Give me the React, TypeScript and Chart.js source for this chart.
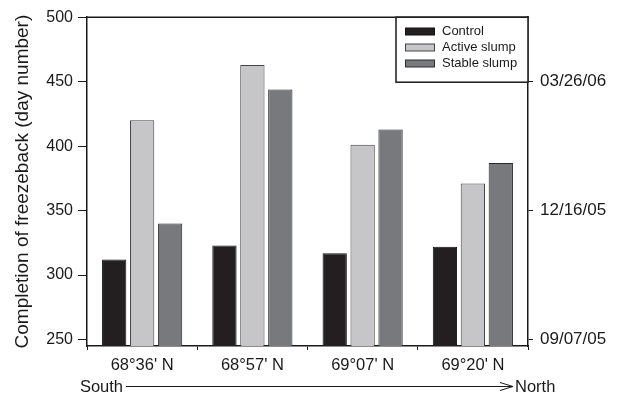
import React, { useEffect, useRef } from "react";
import { Chart, registerables } from "chart.js";

Chart.register(...registerables);

const sites = ["68°36' N", "68°57' N", "69°07' N", "69°20' N"];
const controlDays = [312, 323, 317, 322];
const activeSlumpDays = [420, 463, 401, 371];
const stableSlumpDays = [340, 444, 413, 387];

const leftTicks = [250, 300, 350, 400, 450, 500];
const dateTickValues = [250, 350, 450];
const dateTickLabels = ["09/07/05", "12/16/05", "03/26/06"];

const FONT = "'Liberation Sans', Arial, Helvetica, sans-serif";

const framePlugin = {
  id: "frameAndNotes",
  afterDraw(chart: any) {
    const { ctx, chartArea } = chart;
    const { left, right, top, bottom } = chartArea;
    ctx.save();

    // top edge of the plot frame
    ctx.strokeStyle = "#1a1a1a";
    ctx.lineWidth = 1.5;
    ctx.beginPath();
    ctx.moveTo(left - 1, top);
    ctx.lineTo(right + 1, top);
    ctx.stroke();

    // y-axis title
    ctx.fillStyle = "#1a1a1a";
    ctx.font = `19px ${FONT}`;
    ctx.textAlign = "center";
    ctx.textBaseline = "middle";
    ctx.save();
    ctx.translate(23, (top + bottom) / 2);
    ctx.rotate(-Math.PI / 2);
    ctx.fillText("Completion of freezeback (day number)", 0, 0);
    ctx.restore();

    // South -> North direction arrow
    const ay = 386.5;
    ctx.font = `16.5px ${FONT}`;
    ctx.textBaseline = "alphabetic";
    ctx.textAlign = "right";
    ctx.fillText("South", 123, 392);
    ctx.textAlign = "left";
    ctx.fillText("North", 515, 392);
    ctx.lineWidth = 1;
    ctx.beginPath();
    ctx.moveTo(126, ay);
    ctx.lineTo(513, ay);
    ctx.moveTo(500, ay - 4);
    ctx.lineTo(513, ay);
    ctx.lineTo(500, ay + 4);
    ctx.stroke();

    // legend box
    const bx = 396;
    const by = top;
    const bw = right - bx;
    const bh = 65;
    ctx.fillStyle = "#ffffff";
    ctx.fillRect(bx, by, bw, bh);
    ctx.strokeStyle = "#1a1a1a";
    ctx.lineWidth = 1.5;
    ctx.strokeRect(bx, by, bw, bh);

    const rows = [31.5, 47.5, 63.5];
    ctx.font = `13px ${FONT}`;
    ctx.textBaseline = "middle";
    ctx.textAlign = "left";
    chart.data.datasets.forEach((ds: any, i: number) => {
      const cy = rows[i];
      ctx.fillStyle = ds.backgroundColor;
      ctx.fillRect(405, cy - 3.5, 30, 7);
      ctx.strokeStyle = ds.borderColor;
      ctx.lineWidth = 1;
      ctx.strokeRect(405.5, cy - 3.5, 29, 7);
      ctx.fillStyle = "#1a1a1a";
      ctx.fillText(ds.label, 442, cy);
    });

    ctx.restore();
  },
};

export default function App() {
  const canvasRef = useRef<HTMLCanvasElement | null>(null);

  useEffect(() => {
    if (!canvasRef.current) return;
    const chart = new Chart(canvasRef.current, {
      type: "bar",
      data: {
        labels: sites,
        datasets: [
          {
            label: "Control",
            data: controlDays,
            backgroundColor: "#231f20",
            borderColor: "#111111",
            borderWidth: 1,
            yAxisID: "y",
          },
          {
            label: "Active slump",
            data: activeSlumpDays,
            backgroundColor: "#c6c6c8",
            borderColor: "#444444",
            borderWidth: 1,
            yAxisID: "y",
          },
          {
            label: "Stable slump",
            data: stableSlumpDays,
            backgroundColor: "#78797c",
            borderColor: "#2a2a2a",
            borderWidth: 1,
            yAxisID: "y",
          },
        ],
      },
      options: {
        responsive: false,
        animation: false,
        layout: { padding: { top: 15, left: 0, right: 0, bottom: 0 } },
        datasets: {
          bar: { categoryPercentage: 0.76, barPercentage: 0.87 },
        },
        plugins: {
          legend: { display: false },
          tooltip: { enabled: false },
        },
        scales: {
          x: {
            grid: {
              drawOnChartArea: false,
              drawTicks: true,
              tickLength: 4,
              color: "#1a1a1a",
            },
            border: { display: true, color: "#1a1a1a", width: 1.5 },
            ticks: {
              color: "#1a1a1a",
              font: { family: FONT, size: 16.5 },
              padding: 6,
              maxRotation: 0,
            },
            afterFit: (scale: any) => {
              scale.height = 51;
            },
          },
          y: {
            position: "left",
            min: 245,
            max: 500,
            grid: {
              drawOnChartArea: false,
              drawTicks: true,
              tickLength: 9,
              color: "#1a1a1a",
            },
            border: { display: true, color: "#1a1a1a", width: 1.5 },
            ticks: {
              color: "#1a1a1a",
              font: { family: FONT, size: 16 },
              padding: 5,
            },
            afterBuildTicks: (scale: any) => {
              scale.ticks = leftTicks.map((v) => ({ value: v }));
            },
            afterFit: (scale: any) => {
              scale.width = 87;
            },
          },
          y2: {
            position: "right",
            min: 245,
            max: 500,
            grid: {
              drawOnChartArea: false,
              drawTicks: true,
              tickLength: 5,
              color: "#1a1a1a",
            },
            border: { display: true, color: "#1a1a1a", width: 1.5 },
            ticks: {
              color: "#1a1a1a",
              font: { family: FONT, size: 17 },
              padding: 7,
              callback: (value: any) => {
                const i = dateTickValues.indexOf(Number(value));
                return i >= 0 ? dateTickLabels[i] : "";
              },
            },
            afterBuildTicks: (scale: any) => {
              scale.ticks = dateTickValues.map((v) => ({ value: v }));
            },
            afterFit: (scale: any) => {
              scale.width = 94;
            },
          },
        },
      },
      plugins: [framePlugin],
    });
    return () => chart.destroy();
  }, []);

  return (
    <div style={{ position: "fixed", left: 0, top: 0, width: 622, height: 397, background: "#fff" }}>
      <canvas ref={canvasRef} width={622} height={397} />
    </div>
  );
}
